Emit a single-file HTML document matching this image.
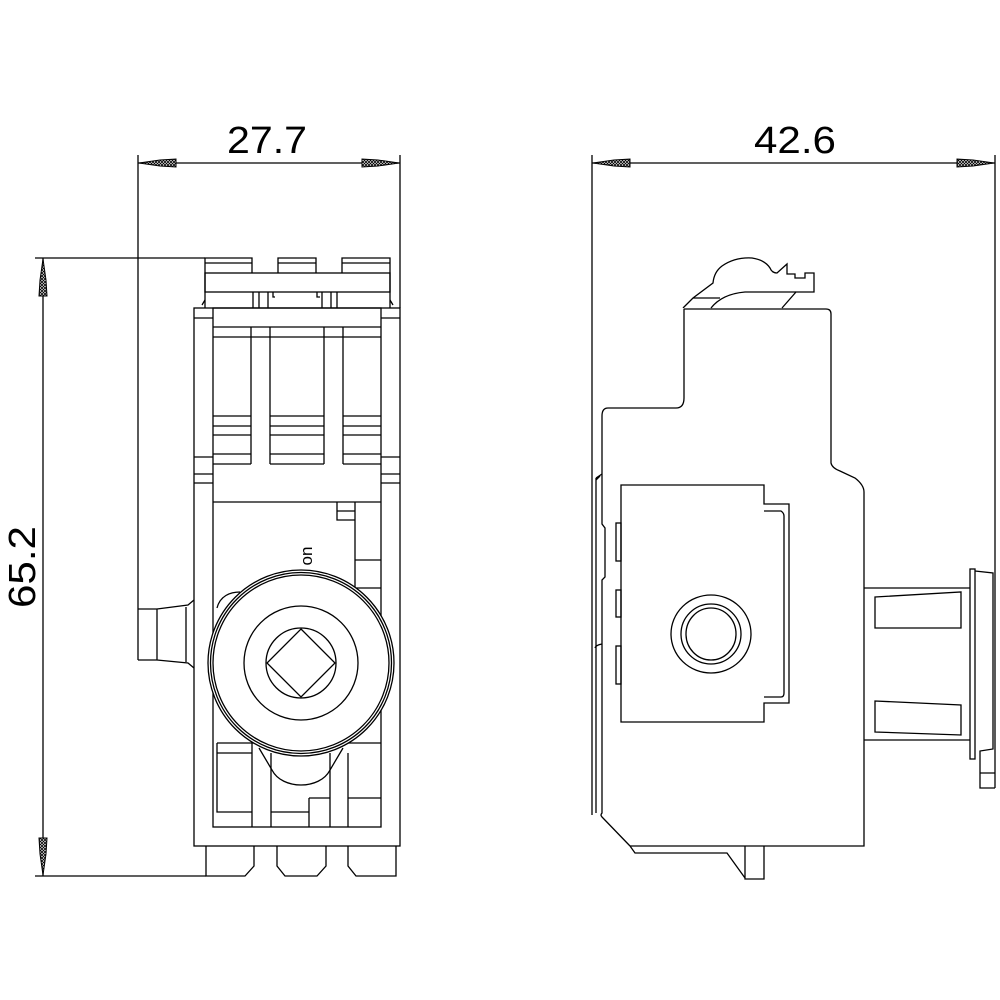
<!DOCTYPE html>
<html><head><meta charset="utf-8"><style>
html,body{margin:0;padding:0;background:#fff;width:1000px;height:1000px;overflow:hidden}
svg{display:block}
text{font-family:"Liberation Sans",sans-serif;font-weight:normal}
</style></head><body>
<svg width="1000" height="1000" viewBox="0 0 1000 1000" xmlns="http://www.w3.org/2000/svg">
<defs>
<pattern id="hp" width="3" height="3" patternUnits="userSpaceOnUse"><rect width="3" height="3" fill="#fff"/><path d="M0 0L3 3M3 0L0 3" stroke="#000" stroke-width="0.8"/></pattern>
</defs>
<g fill="none" stroke="#000" stroke-width="1.3">
<line x1="138" y1="155" x2="138" y2="660"/>
<line x1="400" y1="155" x2="400" y2="308"/>
<line x1="138" y1="163" x2="400" y2="163"/>
<line x1="592" y1="155" x2="592" y2="815"/>
<line x1="995" y1="155" x2="995" y2="569"/>
<line x1="592" y1="163" x2="995" y2="163"/>
<line x1="35" y1="258" x2="205" y2="258"/>
<line x1="35" y1="876" x2="206" y2="876"/>
<line x1="43" y1="258" x2="43" y2="876"/>
</g>
<g fill="url(#hp)" stroke="#000" stroke-width="1">
<path d="M139 163 L160 160 L176 159 L176 167 L160 166 Z"/>
<path d="M399 163 L378 160 L362 159 L362 167 L378 166 Z"/>
<path d="M593 163 L614 160 L630 159 L630 167 L614 166 Z"/>
<path d="M994 163 L973 160 L957 159 L957 167 L973 166 Z"/>
<path d="M43 259 L40 280 L39 296 L47 296 L46 280 Z"/>
<path d="M43 875 L40 854 L39 838 L47 838 L46 854 Z"/>
</g>
<g font-size="38" fill="#000">
<text x="267" y="153" text-anchor="middle" textLength="80" lengthAdjust="spacingAndGlyphs">27.7</text>
<text x="795" y="153" text-anchor="middle" textLength="82" lengthAdjust="spacingAndGlyphs">42.6</text>
<text transform="translate(35,567) rotate(-90)" text-anchor="middle" textLength="82" lengthAdjust="spacingAndGlyphs">65.2</text>
</g>

<g fill="none" stroke="#000" stroke-width="1.3">
<path d="M205 308 L205 258 L252 258 L252 273"/>
<line x1="205" y1="263" x2="252" y2="263"/>
<path d="M278 273 L278 258 L316 258 L316 273"/>
<line x1="278" y1="263" x2="316" y2="263"/>
<path d="M342 273 L342 258 L390 258 L390 308"/>
<line x1="342" y1="263" x2="390" y2="263"/>
<rect x="205" y="273" width="185" height="19"/>
<path d="M202 305 L205 300 M393 305 L390 300"/>
<path d="M253 292 L253 308 M259 292 L259 308 M268 292 L268 308 M273 292 L273 297 L275 297"/>
<path d="M337 292 L337 308 M331 292 L331 308 M322 292 L322 308 M317 292 L317 297 L320 297"/>
<rect x="194" y="308" width="206" height="538"/>
<rect x="213" y="308" width="168" height="519"/>
<line x1="194" y1="318" x2="213" y2="318"/><line x1="381" y1="318" x2="400" y2="318"/>
<line x1="213" y1="327" x2="381" y2="327"/>
<line x1="213" y1="337" x2="381" y2="337"/>
<path d="M251 327 L251 464 M270 327 L270 464 M324 327 L324 464 M343 327 L343 464"/>
<line x1="213" y1="464" x2="251" y2="464"/><line x1="270" y1="464" x2="324" y2="464"/><line x1="343" y1="464" x2="381" y2="464"/>
<path d="M213 416H251M213 426H251M213 435H251M213 454H251"/>
<path d="M270 416H324M270 426H324M270 435H324M270 454H324"/>
<path d="M343 416H381M343 426H381M343 435H381M343 454H381"/>
<path d="M194 457H213M194 474H213M194 483H213M381 457H400M381 474H400M381 483H400"/>
<line x1="213" y1="502" x2="381" y2="502"/>
<path d="M337 502 L337 520 L355 520 L355 502 M337 511 H355 M355 520 V590"/>
<path d="M355 560 H381 M355 588 H381"/>
<path d="M217 743 H381 M217 753 H252 M217 743 V812 H252 M252 743 V827 M271 753 V827 M330 753 V827 M348 753 V827 M348 798 H381 M271 812 H309 M309 798 H330 M309 798 V827"/>
<path d="M194 600 L188 605 L157 609 L138 609 M194 668 L188 663 L157 660 L138 660 M157 609 V660 M186 607 V662"/>
<path d="M206 846 V876 H245 L254 866 V846"/>
<path d="M277 846 V866 L285 876 H317 L326 866 V846"/>
<path d="M348 846 V866 L356 876 H396 V846"/>
<path d="M259 748 L272 770 C282 790 320 790 330 770 L343 748"/>
<path d="M217 608 C220 596 230 592 240 592"/>
<circle cx="301" cy="663" r="93" fill="#fff"/>
<circle cx="301" cy="663" r="90.5"/>
<circle cx="301" cy="663" r="88"/>
<circle cx="301" cy="663" r="57"/>
<circle cx="301" cy="663" r="35"/>
<path d="M301 629 L335 663 L301 697 L267 663 Z"/>
</g>
<text transform="translate(312,556) rotate(-90)" font-size="17" text-anchor="middle" fill="#000">on</text>

<g fill="none" stroke="#000" stroke-width="1.3">
<path d="M684 309 L684 398 Q684 408 676 408 L608 408 Q602 408 602 416 L602 524 L605 528 L605 577 L602 580 L602 813 Q600 815 602 817 L630 846"/>
<path d="M684 309 L826 309 Q831 309 831 314 L831 463 Q832 468 840 471 L855 478 Q864 485 864 492 L864 846 L630 846"/>
<path d="M596 478 L602 474 M596 478 L596 813 M596 480 L600 476 M595 648 Q596 645 602 644"/>
<path d="M630 846 L635 853 L727 853 L745 878 M745 846 V879 H764 V846"/>
<path d="M683 308 L693 298 L713 283 Q714 272 722 266 Q735 257 752 258 Q765 260 770 268 Q772 273 777 273 L787 264 L787 274 L795 274 L795 278 L805 278 L805 273 L814 273 L814 292 L796 292 L782 308"/>
<path d="M693 298 L720 298 M711 308 Q722 294 745 292 L796 292"/>
<path d="M621 485 H764 V504 H789 V703 H764 V722 H621 Z"/>
<path d="M764 511 H781 Q784 513 784 516 V693 Q784 697 781 697 H764"/>
<rect x="616" y="523" width="5" height="38"/>
<rect x="616" y="590" width="5" height="27"/>
<rect x="616" y="646" width="5" height="38"/>
<ellipse cx="711" cy="634" rx="40" ry="39"/>
<ellipse cx="711" cy="634" rx="30" ry="30"/>
<ellipse cx="711" cy="634" rx="25" ry="26"/>
<path d="M864 588 H970 M864 740 H970"/>
<path d="M875 597 L961 592 V628 L875 628 Z"/>
<path d="M875 701 L961 705 V735 L875 732 Z"/>
<rect x="970" y="569" width="5" height="190"/>
<path d="M975 571 L993 573 V749 L980 751 V788 H995 M980 773 H995"/>
<line x1="995" y1="569" x2="995" y2="788"/>
</g>
</svg>
</body></html>
